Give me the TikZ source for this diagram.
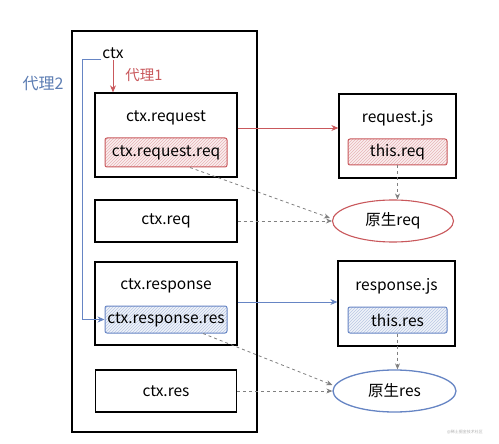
\documentclass[tikz,border=0pt]{standalone}
\usepackage{fontspec}
\setmainfont{Noto Sans CJK SC}
\usetikzlibrary{patterns,arrows.meta,shapes.geometric}
\definecolor{myred}{HTML}{C9585C}
\definecolor{myblue}{HTML}{6685C4}
\definecolor{txtblue}{HTML}{5C7DB3}
\begin{document}
\begin{tikzpicture}[x=1pt,y=-1pt,
  box/.style={draw=black,line width=1.3pt,rectangle,inner sep=0pt},
  redsub/.style={draw=myred,line width=1pt,rounded corners=2pt,inner sep=0pt,
    preaction={fill=myred!10},pattern=north east lines,pattern color=myred!45},
  bluesub/.style={draw=myblue,line width=1pt,rounded corners=2pt,inner sep=0pt,
    preaction={fill=myblue!10},pattern=north east lines,pattern color=myblue!45},
  lbl/.style={font=\fontsize{15.5}{17}\selectfont,inner sep=1pt},
  darr/.style={draw=gray,line width=0.8pt,dashed,-{Stealth[length=6pt,width=5pt]}},
  rarr/.style={draw=myred,line width=0.9pt,-{Stealth[length=7pt,width=6pt]}},
  barr/.style={draw=myblue,line width=0.9pt,-{Stealth[length=7pt,width=6pt]}}
]
\useasboundingbox (0,0) rectangle (499,444);
\fill[white] (0,0) rectangle (499,444);

% outer container
\node[box,line width=1.6pt,minimum width=185pt,minimum height=401pt] (outer) at (164.5,231.5) {};

% left column boxes
\node[box,minimum width=142pt,minimum height=84pt] (reqbox) at (166,135) {};
\node[lbl] (reqtitle) at (166,118) {ctx.request};
\node[redsub,minimum width=122pt,minimum height=29pt,lbl] (reqreq) at (166,152.5) {ctx.request.req};

\node[box,minimum width=142pt,minimum height=42pt,lbl] (ctxreq) at (166,221) {ctx.req};

\node[box,minimum width=142pt,minimum height=83pt] (resbox) at (166,303.5) {};
\node[lbl] (restitle) at (166,286) {ctx.response};
\node[bluesub,minimum width=122pt,minimum height=27pt,lbl] (resres) at (166,319.5) {ctx.response.res};

\node[box,minimum width=141pt,minimum height=42pt,lbl] (ctxres) at (166,391) {ctx.res};

% right column
\node[box,minimum width=117pt,minimum height=84pt] (reqjs) at (397.5,136) {};
\node[lbl] (reqjstitle) at (397.5,118) {request.js};
\node[redsub,minimum width=99pt,minimum height=26pt,lbl] (thisreq) at (397.5,152) {this.req};
\node[draw=myred,line width=1.1pt,ellipse,minimum width=121pt,minimum height=42pt,inner sep=0pt,lbl] (ntreq) at (393,221) {原生req};

\node[box,minimum width=117pt,minimum height=85pt] (resjs) at (396.5,303.5) {};
\node[lbl] (resjstitle) at (396.5,286) {response.js};
\node[bluesub,minimum width=99pt,minimum height=26pt,lbl] (thisres) at (397.5,320) {this.res};
\node[draw=myblue,line width=1.3pt,ellipse,minimum width=123pt,minimum height=42pt,inner sep=0pt,lbl] (ntres) at (394.5,391) {原生res};

% labels
\node[lbl] (ctx) at (113,53) {ctx};
\node[lbl,text=myred,font=\fontsize{14.5}{16}\selectfont] (proxy1) at (144,75) {代理1};
\node[lbl,text=txtblue,font=\fontsize{16}{18}\selectfont] (proxy2) at (43,84) {代理2};
\coordinate (p2) at (82,62);

% proxy arrows
\draw[rarr] (ctx.south) -- (ctx.south |- reqbox.north);
\draw[barr] (ctx.south west) -- (ctx.south west -| p2) |- (resres.west);

% solid links
\draw[rarr] ([yshift=7pt]reqbox.east) -- ([yshift=7pt]reqbox.east -| reqjs.west);
\draw[barr] ([yshift=1.5pt]resbox.east) -- ([yshift=1.5pt]resbox.east -| resjs.west);

% dashed links
\draw[darr] (thisreq.south) -- (thisreq.south |- ntreq.north);
\draw[darr] ([xshift=24pt]reqreq.south) -- ([xshift=-2pt,yshift=3pt]ntreq.west);
\draw[darr] (ctxreq.east) -- (ntreq.west);
\draw[darr] (thisres.south) -- (thisres.south |- ntres.north);
\draw[darr] ([xshift=37pt]resres.south) -- ([xshift=0pt,yshift=6pt]ntres.west);
\draw[darr] (ctxres.east) -- (ntres.west);

% watermark
\node[text=gray!60,font=\fontsize{4}{5}\selectfont,inner sep=0pt] (wm) at (465,432) {@稀土掘金技术社区};
\end{tikzpicture}
\end{document}
